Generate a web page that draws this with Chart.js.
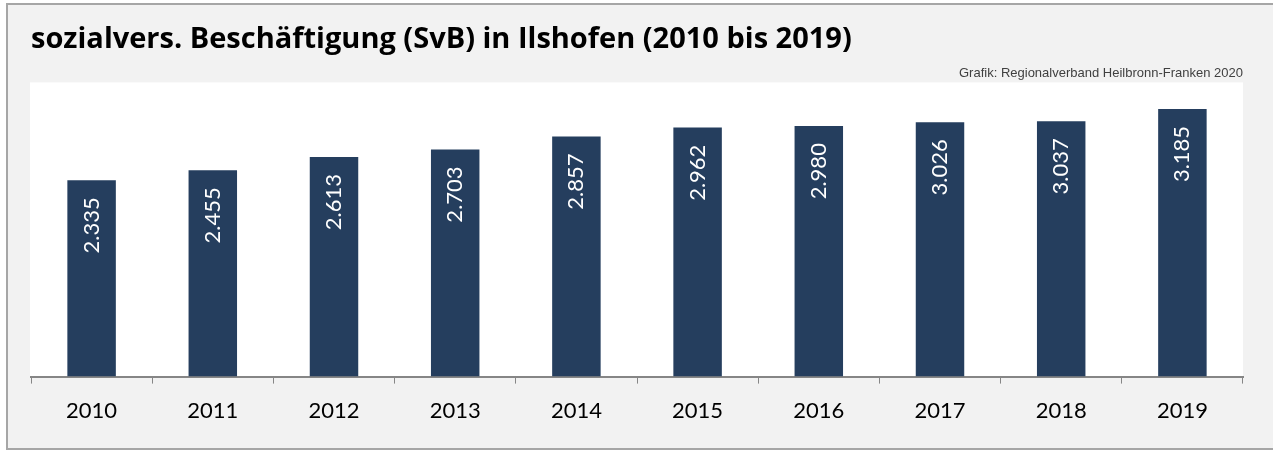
<!DOCTYPE html>
<html>
<head>
<meta charset="utf-8">
<script src="https://cdn.jsdelivr.net/npm/chart.js@4.4.1/dist/chart.umd.min.js"></script>
<style>
  body { margin: 0; background: #ffffff; }
  #frame {
    position: absolute; left: 6px; top: 3px;
    width: 1290px; height: 443px;
    border: 2px solid #a6a6a6; background: #f2f2f2;
  }
  #svbChart { position: absolute; left: 0; top: 0; }
</style>
</head>
<body>
<div id="frame"></div>
<canvas id="svbChart" width="1273" height="450"></canvas>
<script>
const years = ['2010', '2011', '2012', '2013', '2014', '2015', '2016', '2017', '2018', '2019'];
const employees = [2335, 2455, 2613, 2703, 2857, 2962, 2980, 3026, 3037, 3185];
const yMax = 3500;

const barColor = '#253e5e';
const fontFamily = 'Lato, "Open Sans", sans-serif';

// German thousand separator, 2335 -> 2.335
function formatDE(v) {
    return String(v).replace(/\B(?=(\d{3})+(?!\d))/g, '.');
}

// white plot background
const plotBackground = {
    id: 'plotBackground',
    beforeDraw(chart) {
        const a = chart.chartArea;
        const c = chart.ctx;
        c.save();
        c.fillStyle = '#ffffff';
        c.fillRect(a.left - 1, a.top, a.right - a.left + 1, a.bottom - a.top);
        c.restore();
    }
};

// rotated value labels inside the bars
const barLabels = {
    id: 'barLabels',
    afterDatasetsDraw(chart) {
        const c = chart.ctx;
        const meta = chart.getDatasetMeta(0);
        c.save();
        c.fillStyle = '#ffffff';
        c.font = '22px ' + fontFamily;
        c.textAlign = 'right';
        c.textBaseline = 'middle';
        meta.data.forEach((bar, i) => {
            c.save();
            c.translate(bar.x, bar.y + 17);
            c.rotate(-Math.PI / 2);
            c.fillText(formatDE(employees[i]), 0, 0);
            c.restore();
        });
        c.restore();
    }
};

const ctx = document.getElementById('svbChart').getContext('2d');
const svbChart = new Chart(ctx, {
    type: 'bar',
    data: {
        labels: years,
        datasets: [{
            data: employees,
            backgroundColor: barColor,
            borderWidth: 0,
            categoryPercentage: 1,
            barPercentage: 0.4
        }]
    },
    options: {
        responsive: false,
        animation: false,
        layout: {
            padding: { left: 31, right: 30, top: 0, bottom: 12 }
        },
        plugins: {
            legend: { display: false },
            tooltip: { enabled: false },
            title: {
                display: true,
                text: 'sozialvers. Beschäftigung (SvB) in Ilshofen (2010 bis 2019)',
                align: 'start',
                color: '#000000',
                font: { family: '"Open Sans", sans-serif', size: 29, weight: 'bold' },
                padding: { top: 22, bottom: 9 }
            },
            subtitle: {
                display: true,
                text: 'Grafik: Regionalverband Heilbronn-Franken 2020',
                align: 'end',
                color: '#404040',
                font: { family: 'Arial, "Liberation Sans", sans-serif', size: 13 },
                padding: { top: 0, bottom: 1 }
            }
        },
        scales: {
            x: {
                grid: {
                    display: true,
                    offset: true,
                    drawOnChartArea: false,
                    drawTicks: true,
                    tickLength: 7,
                    color: '#868686',
                    lineWidth: 1
                },
                border: { display: true, color: '#868686', width: 2 },
                ticks: {
                    color: '#000000',
                    font: { family: fontFamily, size: 22 },
                    padding: 14,
                    maxRotation: 0
                }
            },
            y: {
                display: false,
                min: 0,
                max: yMax
            }
        }
    },
    plugins: [plotBackground, barLabels]
});
</script>
</body>
</html>
